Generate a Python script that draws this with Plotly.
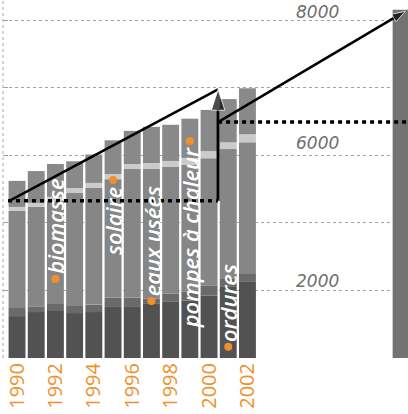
import numpy as np
import plotly.graph_objects as go

# ---------------- data ----------------
years = [1990, 1991, 1992, 1993, 1994, 1995, 1996, 1997, 1998, 1999, 2000, 2001, 2002]
ordures = [1240, 1360, 1390, 1330, 1360, 1510, 1510, 1600, 1660, 1700, 1850, 2120, 2270]
eaux_usees = [240, 160, 210, 210, 220, 270, 270, 160, 240, 270, 300, 240, 240]
biomasse = [2870, 2950, 3050, 3340, 3450, 3510, 3810, 3830, 3750, 3740, 3760, 3730, 3680]
solaire = [120, 120, 120, 150, 150, 150, 150, 180, 180, 210, 150, 100, 120]
pompes_chaleur = [770, 940, 970, 790, 830, 780, 620, 650, 620, 620, 610, 640, 680]

goal_year = [2010]
goal_total = [8150]

x_tick_values = [1990, 1992, 1994, 1996, 1998, 2000, 2002, 2010]
x_tick_labels = ["1990", "1992", "1994", "1996", "1998", "2000", "2002", "2010"]
grid_values = [0, 2000, 4000, 6000, 7000, 8000]
labelled_values = [2000, 6000, 8000]

baseline_1990 = 4650
target_2000 = 6975
level_2000 = 6490
target_2010 = 8130
trend_years = [1989.6, 2000.47, 2010.22]

segment_names = ["biomasse", "solaire", "eaux usées", "pompes à chaleur", "ordures"]
segment_years = [1992, 1995, 1997, 1999, 2001]
segment_dot_values = [2340, 5270, 1690, 6210, 330]

# ---------------- broken value axis (0-6000 compressed, 6000-8000 stretched) ----------------
REAL_BREAKS = [0, 2000, 4000, 6000, 7000, 8000]
AXIS_STEPS = [0, 1, 2, 3, 4, 5]


def to_axis(v):
    v = np.asarray(v, dtype=float)
    out = np.interp(v, REAL_BREAKS, AXIS_STEPS)
    return np.where(v > 8000, 5 + (v - 8000) / 1000.0, out)


ORANGE = "#f0902c"
layers = [
    ("ordures", ordures, "#525252"),
    ("eaux usées", eaux_usees, "#6a6a6a"),
    ("biomasse", biomasse, "#868686"),
    ("solaire", solaire, "#cbcbcb"),
    ("pompes à chaleur", pompes_chaleur, "#898989"),
]

fig = go.Figure()
bottom = np.zeros(len(years))
for name, vals, col in layers:
    top = bottom + np.array(vals, dtype=float)
    b_ax = to_axis(bottom)
    t_ax = to_axis(top)
    fig.add_trace(go.Bar(x=years, y=t_ax - b_ax, base=b_ax, width=0.88, name=name,
                         marker=dict(color=col, line=dict(width=0))))
    bottom = top

fig.add_trace(go.Bar(x=goal_year, y=to_axis(goal_total), base=[0], width=0.88, name="2010",
                     marker=dict(color="#737373", line=dict(width=0))))

# dotted reference levels
fig.add_trace(go.Scatter(x=[1989.53, trend_years[1]], y=to_axis([baseline_1990, baseline_1990]),
                         mode="lines", line=dict(color="black", width=3.5, dash="4px,4px"),
                         hoverinfo="skip"))
fig.add_trace(go.Scatter(x=[trend_years[1], 2010.4], y=to_axis([level_2000, level_2000]),
                         mode="lines", line=dict(color="black", width=3.5, dash="4px,4px"),
                         hoverinfo="skip"))
# trend line 1990 -> 2000
fig.add_trace(go.Scatter(x=trend_years[:2], y=to_axis([baseline_1990, target_2000]),
                         mode="lines", line=dict(color="black", width=2.5), hoverinfo="skip"))
# vertical arrow at 2000
fig.add_trace(go.Scatter(x=[trend_years[1], trend_years[1]], y=to_axis([baseline_1990, target_2000]),
                         mode="lines+markers", line=dict(color="black", width=3),
                         marker=dict(symbol="arrow", angleref="previous", size=[0, 22], color="black"),
                         hoverinfo="skip"))
# trend line 2000 -> 2010
fig.add_trace(go.Scatter(x=trend_years[1:], y=to_axis([level_2000, target_2010]),
                         mode="lines+markers", line=dict(color="black", width=2.5),
                         marker=dict(symbol="arrow", angleref="previous", size=[0, 14], color="black"),
                         hoverinfo="skip"))

# orange dots marking the layers
fig.add_trace(go.Scatter(x=segment_years, y=to_axis(segment_dot_values), mode="markers",
                         marker=dict(color=ORANGE, size=8, line=dict(width=0)), hoverinfo="skip"))

annotations = []
dot_ax = to_axis(segment_dot_values)
anchors = ["bottom", "top", "bottom", "top", "bottom"]
shifts = [3, -5, 3, -4, 3]
for name, yr, yv, anc, sh in zip(segment_names, segment_years, dot_ax, anchors, shifts):
    annotations.append(dict(x=yr, y=float(yv), xref="x", yref="y", text=name, showarrow=False,
                            textangle=-90, xanchor="center", yanchor=anc, yshift=sh,
                            font=dict(family="Open Sans", size=22, color="white",
                                      style="italic", weight=600)))

label_shifts = [-3, 0, -4]
for v, sh in zip(labelled_values, label_shifts):
    annotations.append(dict(x=2004.4, y=float(to_axis(v)), xref="x", yref="y", text=str(v),
                            showarrow=False, xanchor="left", yanchor="bottom", yshift=sh,
                            font=dict(family="DejaVu Sans", size=17, color="#6e6e6e", style="italic")))

fig.update_layout(
    width=408, height=414,
    margin=dict(l=3, r=0, t=0, b=56, autoexpand=False),
    paper_bgcolor="white", plot_bgcolor="white",
    showlegend=False, barmode="overlay",
    annotations=annotations,
    shapes=[dict(type="line", xref="paper", yref="paper", x0=0, x1=0, y0=0, y1=1,
                 line=dict(color="#b0a8b0", width=1, dash="dot"), layer="below")],
)
fig.update_xaxes(range=[1989.27, 2010.36], tickvals=x_tick_values, ticktext=x_tick_labels,
                 tickangle=-90, showgrid=False, zeroline=False, showline=False, ticks="",
                 tickfont=dict(family="Open Sans", size=20, color=ORANGE))
fig.update_yaxes(range=[0, 5.296], tickvals=[float(t) for t in to_axis(grid_values)],
                 showticklabels=False, showgrid=True, gridcolor="#a89ea8", griddash="dot",
                 gridwidth=1, zeroline=False, showline=False, ticks="inside", ticklen=5,
                 tickcolor="#a0a0a0")

fig.write_html("out.html", config={"displayModeBar": False},
               post_script="document.body.style.margin='0';")
